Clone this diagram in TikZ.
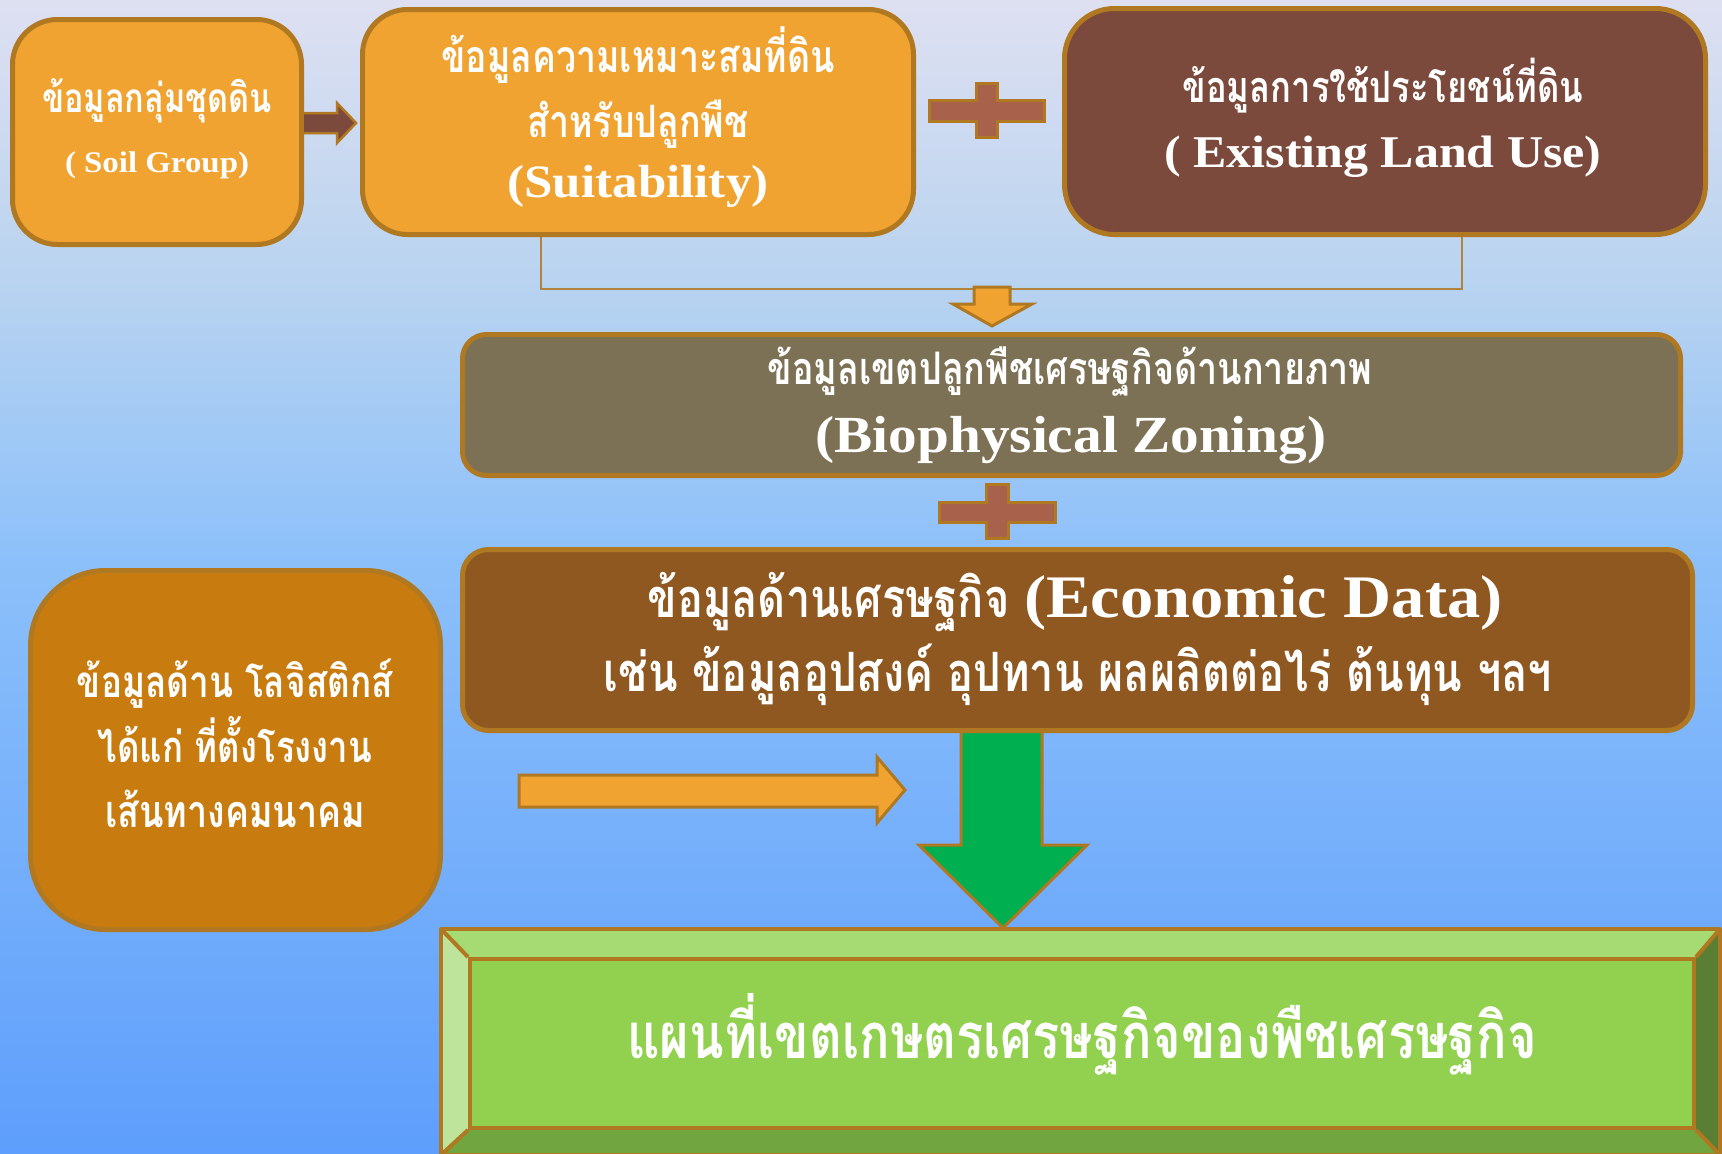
\documentclass[tikz,border=0pt]{standalone}
\usepackage{fontspec}
\setmainfont{Liberation Serif}
\newfontfamily\thai[Script=Thai,FakeStretch=0.8]{Loma}
\newfontfamily\lat[FakeStretch=1.1]{Liberation Serif}
\usepackage{graphicx}
\usetikzlibrary{calc}
\definecolor{bgA}{HTML}{DEE0F1}
\definecolor{bgB}{HTML}{B6D2F0}
\definecolor{bgC}{HTML}{8CC0FA}
\definecolor{bgD}{HTML}{5E9EFC}
\definecolor{bord}{HTML}{B07820}
\definecolor{orangeF}{HTML}{F0A330}
\definecolor{landF}{HTML}{7B4A3C}
\definecolor{plusF}{HTML}{A8624C}
\definecolor{bioF}{HTML}{7C7154}
\definecolor{econF}{HTML}{8F5820}
\definecolor{logF}{HTML}{C87C10}
\definecolor{greenA}{HTML}{00AF50}
\definecolor{faceF}{HTML}{92D050}
\definecolor{bevT}{HTML}{A6DA72}
\definecolor{bevL}{HTML}{BEE39A}
\definecolor{bevR}{HTML}{5A7E34}
\definecolor{bevB}{HTML}{71A540}
\definecolor{connC}{HTML}{B0843C}
\newcommand\fitw[2]{\resizebox{#1pt}{!}{#2}}
\begin{document}
\begin{tikzpicture}[x=1pt,y=-1pt,
  box/.style={draw=bord, line width=5pt, rounded corners=#1, inner sep=0pt},
  box/.default=45pt,
  txt/.style={text=white, anchor=base, inner sep=0pt, font=\bfseries},
  blk/.style={draw=bord, line width=3pt, line join=miter},
  conn/.style={draw=connC, line width=2pt},
  bev/.style={draw=bord, line width=4pt, line join=round}]
\useasboundingbox (0,0) rectangle (1722,1154);
% background
\shade[top color=bgA, bottom color=bgB] (0,0) rectangle (1722,300.5);
\shade[top color=bgB, bottom color=bgC] (0,300) rectangle (1722,560.5);
\shade[top color=bgC, bottom color=bgD] (0,560) rectangle (1722,1154);

% coordinates for connector
\coordinate (sx) at (541,0);
\coordinate (lx) at (1462,0);
\coordinate (jy) at (0,289);

% connector (drawn first, boxes cover its ends)
\draw[conn] (541,230) -- (sx |- jy) -- (lx |- jy) -- (1462,230);

% green arrow (under econ box)
\draw[blk, fill=greenA] (961,730) -- (1042,730) -- (1042,845) -- (1087,845) -- (1003,928) -- (919,845) -- (961,845) -- cycle;

% top boxes
\node[box, fill=orangeF, minimum width=289pt, minimum height=225pt] (soil) at (157,132) {};
\node[box, fill=orangeF, minimum width=551pt, minimum height=225pt] (suit) at (638,122) {};
\node[box=50pt, fill=landF, minimum width=641pt, minimum height=226pt] (land) at (1385,121.5) {};

% middle boxes
\node[box=24pt, fill=bioF, minimum width=1218pt, minimum height=141pt] (bio) at (1071.5,405) {};
\node[box=26pt, fill=econF, minimum width=1230pt, minimum height=181pt] (econ) at (1077.5,640) {};
\node[box=75pt, fill=logF, minimum width=410pt, minimum height=359pt] (logi) at (235.5,750) {};

% soil -> suit block arrow
\draw[blk, line width=2.5pt, fill=landF] (soil.east |- 0,113) -- (337,113) -- (337,103) -- (356,123) -- (337,143) -- (337,133) -- (soil.east |- 0,133);

% plus signs
\draw[blk, fill=plusF] (976,83) -- (997,83) -- (997,100) -- (1044,100) -- (1044,121) -- (997,121) -- (997,137) -- (976,137) -- (976,121) -- (929,121) -- (929,100) -- (976,100) -- cycle;
\draw[blk, fill=plusF] (986,484) -- (1008,484) -- (1008,502) -- (1055,502) -- (1055,522) -- (1008,522) -- (1008,538) -- (986,538) -- (986,522) -- (939,522) -- (939,502) -- (986,502) -- cycle;

% small down arrow at join
\draw[blk, fill=orangeF] (974,287) -- (1010,287) -- (1010,304) -- (1032,304) -- (992,326) -- (953,304) -- (974,304) -- cycle;

% orange arrow from logistics
\draw[blk, fill=orangeF] (519,775) -- (877,775) -- (877,757) -- (905,790) -- (877,823) -- (877,807) -- (519,807) -- cycle;

% bevel box
\fill[bevT] (441,929) -- (1720,929) -- (1694,959) -- (470,959) -- cycle;
\fill[bevL] (441,929) -- (470,959) -- (470,1128) -- (441,1155) -- cycle;
\fill[bevR] (1720,929) -- (1720,1155) -- (1694,1128) -- (1694,959) -- cycle;
\fill[bevB] (470,1128) -- (1694,1128) -- (1720,1155) -- (441,1155) -- cycle;
\node[draw=bord, line width=4pt, fill=faceF, minimum width=1224pt, minimum height=169pt, inner sep=0pt] (map) at (1082,1043.5) {};
\draw[bev] (441,929) rectangle (1720,1155);
\draw[bev] (map.north west) -- (441,929);
\draw[bev] (map.north east) -- (1720,929);
\draw[bev] (map.south west) -- (441,1155);
\draw[bev] (map.south east) -- (1720,1155);

% texts
\node[txt] (soilT1) at (157,112) {\fitw{230}{\thai ข้อมูลกลุ่มชุดดิน}};
\node[txt] (soilT2) at (157,172) {\fitw{184}{\lat ( Soil Group)}};
\node[txt] (suitT1) at (638,72) {\fitw{393}{\thai ข้อมูลความเหมาะสมที่ดิน}};
\node[txt] (suitT2) at (638,137) {\fitw{221}{\thai สำหรับปลูกพืช}};
\node[txt] (suitT3) at (638,197) {\fitw{261}{\lat (Suitability)}};
\node[txt] (landT1) at (1383,102) {\fitw{401}{\thai ข้อมูลการใช้ประโยชน์ที่ดิน}};
\node[txt] (landT2) at (1383,167) {\fitw{437}{\lat ( Existing Land Use)}};
\node[txt] (bioT1) at (1070,384) {\fitw{605}{\thai ข้อมูลเขตปลูกพืชเศรษฐกิจด้านกายภาพ}};
\node[txt] (bioT2) at (1071,452) {\fitw{511}{\lat (Biophysical Zoning)}};
\node[txt] (econT1) at (1075,617) {\fitw{362}{\thai ข้อมูลด้านเศรษฐกิจ}\hspace{15pt}\fitw{478}{\lat (Economic Data)}};
\node[txt] (econT2) at (1078,691) {\fitw{948}{\thai เช่น ข้อมูลอุปสงค์ อุปทาน ผลผลิตต่อไร่ ต้นทุน ฯลฯ}};
\node[txt] (logT1) at (235,697) {\fitw{316}{\thai ข้อมูลด้าน โลจิสติกส์}};
\node[txt] (logT2) at (235,762) {\fitw{274}{\thai ได้แก่ ที่ตั้งโรงงาน}};
\node[txt] (logT3) at (235,827) {\fitw{260}{\thai เส้นทางคมนาคม}};
\node[txt] (mapT) at (1082,1058) {\fitw{909}{\thai แผนที่เขตเกษตรเศรษฐกิจของพืชเศรษฐกิจ}};
\end{tikzpicture}
\end{document}
